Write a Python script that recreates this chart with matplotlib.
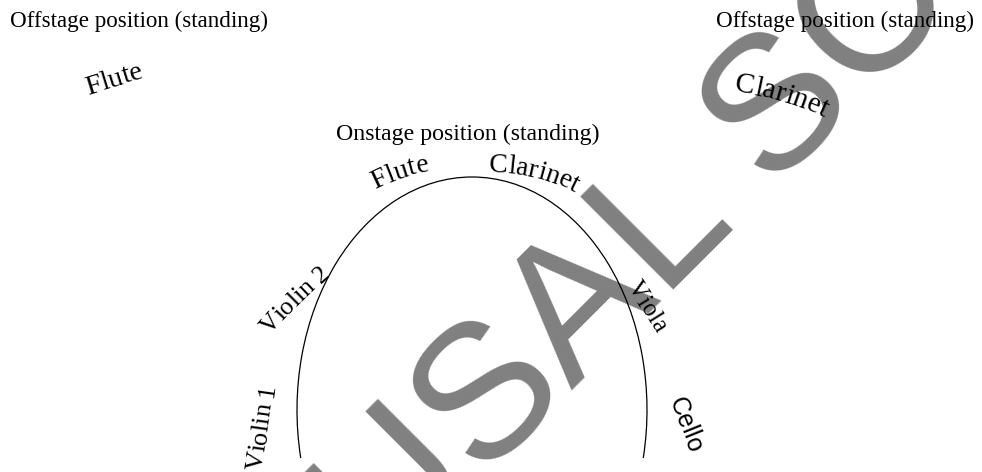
import numpy as np
import matplotlib
matplotlib.use("Agg")
import matplotlib.pyplot as plt
from matplotlib.patches import Arc
from matplotlib.font_manager import FontProperties, findfont, get_font

W, H, DPI = 982, 472, 100

# ---- content ----
header_texts = ["Offstage position (standing)", "Offstage position (standing)",
                "Onstage position (standing)"]
offstage_instruments = ["Flute", "Clarinet"]
onstage_instruments = ["Flute", "Clarinet", "Violin 2", "Violin 1", "Viola", "Cello"]
watermark_text = "PERUSAL SCORE"

SERIF = "Liberation Serif"
SANS = "Liberation Sans"

fig = plt.figure(figsize=(W / DPI, H / DPI), dpi=DPI)
ax = fig.add_axes([0, 0, 1, 1])
ax.set_xlim(0, W)
ax.set_ylim(H, 0)
ax.axis("off")


def advances(s, family, size):
    font = get_font(findfont(FontProperties(family=family)))
    font.set_size(size, 72)
    adv = []
    for ch in s:
        g = font.load_char(ord(ch))
        adv.append(g.linearHoriAdvance / 65536 * DPI / 72)
    return np.array(adv), font


def text_on_arc(s, x, y, rot, R, size, family):
    """Place s with baseline centre at (x, y), tangent angle rot (deg),
    curving clockwise with radius R (pixels; np.inf = straight)."""
    adv, _ = advances(s, family, size)
    total = adv.sum()
    centers = np.cumsum(adv) - adv / 2 - total / 2
    r0 = np.radians(rot)
    P = np.array([x, y], dtype=float)
    for ch, sc in zip(s, centers):
        if np.isinf(R):
            ri = r0
            pos = P + sc * np.array([np.cos(r0), -np.sin(r0)])
        else:
            C = P + R * np.array([np.sin(r0), np.cos(r0)])
            ri = r0 - sc / R
            pos = C - R * np.array([np.sin(ri), np.cos(ri)])
        ax.text(pos[0], pos[1], ch, rotation=np.degrees(ri), rotation_mode="anchor",
                ha="center", va="baseline", fontsize=size, family=family,
                color="black", zorder=3)


# ---- watermark ----
WM_SIZE = 138
adv, font = advances(watermark_text, SANS, WM_SIZE)
gL = font.load_char(ord("L"))
gP = font.load_char(ord("P"))
lsbL = gL.horiBearingX / 64 * DPI / 72
lsbP = gP.horiBearingX / 64 * DPI / 72
d = adv[:watermark_text.index("L")].sum() + lsbL - lsbP
corner = np.array([663.0, 300.0])
start = corner + d * np.array([-1, 1]) / np.sqrt(2)
ax.text(start[0], start[1], watermark_text, rotation=45, rotation_mode="anchor",
        ha="left", va="baseline", fontsize=WM_SIZE, family=SANS, color="#808080", zorder=0)

# ---- headers ----
ax.text(139, 27, header_texts[0], ha="center", va="baseline", fontsize=16.6, family=SERIF, zorder=3)
ax.text(845, 27, header_texts[1], ha="center", va="baseline", fontsize=16.6, family=SERIF, zorder=3)
ax.text(468, 140, header_texts[2], ha="center", va="baseline", fontsize=17.2, family=SERIF, zorder=3)

# ---- offstage instruments ----
text_on_arc(offstage_instruments[0], 116, 86, 17, np.inf, 20.5, SERIF)
text_on_arc(offstage_instruments[1], 780, 101, -16, 313, 21, SERIF)

# ---- onstage ellipse ----
CX, CY, A, B = 472, 410, 175, 233
end_dy = 48
t_end = np.arcsin(end_dy / B)
geo = np.degrees(np.arctan2(B * np.sin(t_end), A * np.cos(t_end)))
ax.add_patch(Arc((CX, CY), 2 * A, 2 * B, theta1=180 - geo, theta2=geo,
                 color="black", lw=0.9, zorder=2))

# ---- onstage instruments ----
text_on_arc(onstage_instruments[0], 402, 178, 18.5, 180, 20, SERIF)
text_on_arc(onstage_instruments[1], 533, 177, -13, 180, 20, SERIF)
text_on_arc(onstage_instruments[2], 299, 304, 45, 600, 18.5, SERIF)
text_on_arc(onstage_instruments[3], 268, 428, 82, np.inf, 19, SERIF)
text_on_arc(onstage_instruments[4], 641, 310, -58, np.inf, 18, SERIF)
text_on_arc(onstage_instruments[5], 679, 427, -68, np.inf, 18, SANS)

fig.savefig("out.png", dpi=DPI)
